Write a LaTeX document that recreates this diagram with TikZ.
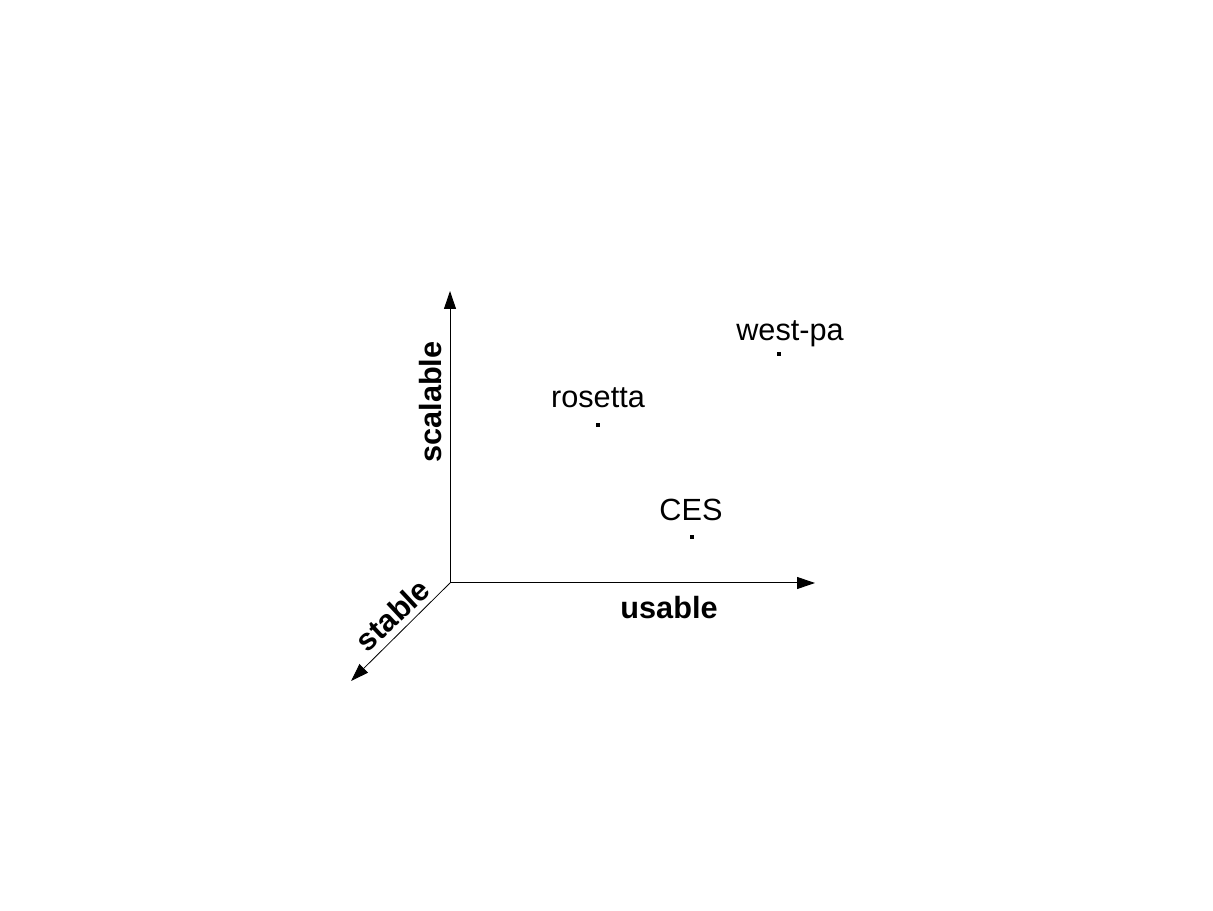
\documentclass[tikz,border=0pt]{standalone}
\usepackage{fontspec}
\setmainfont{Liberation Sans}
\usetikzlibrary{arrows.meta}
\begin{document}
\begin{tikzpicture}[x=0.75pt, y=0.75pt,
	axis/.style={line width=0.75pt, -{Triangle[length=13.5pt, width=9pt]}},
	axislabel/.style={font=\fontsize{23}{27}\selectfont\bfseries, inner sep=0pt, anchor=base},
	pointdot/.style={shape=rectangle, fill=black, inner sep=0pt, minimum size=3.2pt},
	pointlabel/.style={font=\fontsize{23}{27}\selectfont, inner sep=0pt, anchor=base}]
	\useasboundingbox (0, 0) rectangle (1213, 910);
	% Axes:
	\coordinate (origin) at (450, 327);
	\coordinate (scalableend) at (450, 619);
	\coordinate (usableend) at (815, 327);
	\coordinate (stableend) at (351, 229);
	\draw[axis] (origin) -- (scalableend);
	\draw[axis] (origin) -- (usableend);
	\draw[axis, line width=0.6pt] (origin) -- (stableend);
	\node[axislabel, rotate=90] (scalable) at (441, 508){scalable};
	\node[axislabel] (usable) at (669, 291){usable};
	\node[axislabel, rotate=43] (stable) at (400, 287){stable};
	% Points:
	\node[pointdot] (rosetta) at (598, 485){};
	\node[pointlabel] (rosettalabel) at (598, 502){rosetta};
	\node[pointdot] (westpa) at (779, 556){};
	\node[pointlabel] (westpalabel) at (790, 569){west-pa};
	\node[pointdot] (ces) at (692, 373){};
	\node[pointlabel] (ceslabel) at (691, 389){CES};
\end{tikzpicture}
\end{document}
